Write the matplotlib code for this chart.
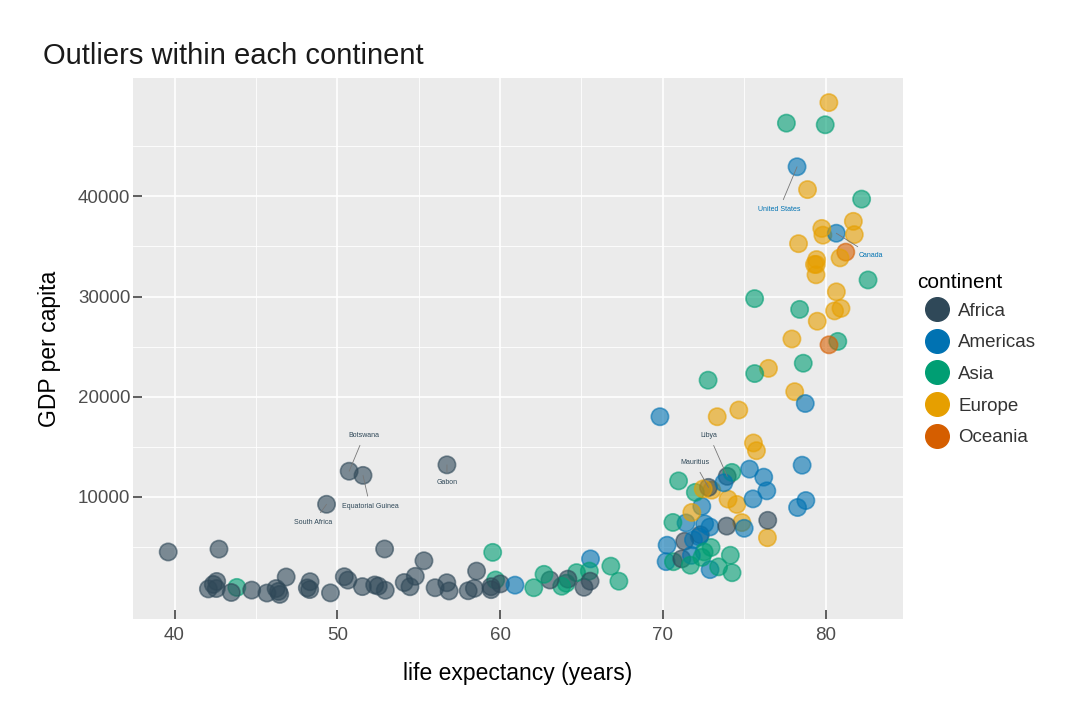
import matplotlib
matplotlib.use('Agg')
import matplotlib.pyplot as plt
from matplotlib.ticker import FixedLocator
from matplotlib.lines import Line2D

plt.rcParams['font.family'] = ['Liberation Sans', 'DejaVu Sans']

# Gapminder, 2007
countries = ['Afghanistan', 'Albania', 'Algeria', 'Angola', 'Argentina', 'Australia', 'Austria',
             'Bahrain', 'Bangladesh', 'Belgium', 'Benin', 'Bolivia', 'Bosnia and Herzegovina',
             'Botswana', 'Brazil', 'Bulgaria', 'Burkina Faso', 'Burundi', 'Cambodia', 'Cameroon',
             'Canada', 'Central African Republic', 'Chad', 'Chile', 'China', 'Colombia', 'Comoros',
             'Congo, Dem. Rep.', 'Congo, Rep.', 'Costa Rica', "Cote d'Ivoire", 'Croatia', 'Cuba',
             'Czech Republic', 'Denmark', 'Djibouti', 'Dominican Republic', 'Ecuador', 'Egypt',
             'El Salvador', 'Equatorial Guinea', 'Eritrea', 'Ethiopia', 'Finland', 'France', 'Gabon',
             'Gambia', 'Germany', 'Ghana', 'Greece', 'Guatemala', 'Guinea', 'Guinea-Bissau', 'Haiti',
             'Honduras', 'Hong Kong, China', 'Hungary', 'Iceland', 'India', 'Indonesia', 'Iran',
             'Iraq', 'Ireland', 'Israel', 'Italy', 'Jamaica', 'Japan', 'Jordan', 'Kenya',
             'Korea, Dem. Rep.', 'Korea, Rep.', 'Kuwait', 'Lebanon', 'Lesotho', 'Liberia', 'Libya',
             'Madagascar', 'Malawi', 'Malaysia', 'Mali', 'Mauritania', 'Mauritius', 'Mexico',
             'Mongolia', 'Montenegro', 'Morocco', 'Mozambique', 'Myanmar', 'Namibia', 'Nepal',
             'Netherlands', 'New Zealand', 'Nicaragua', 'Niger', 'Nigeria', 'Norway', 'Oman',
             'Pakistan', 'Panama', 'Paraguay', 'Peru', 'Philippines', 'Poland', 'Portugal',
             'Puerto Rico', 'Reunion', 'Romania', 'Rwanda', 'Sao Tome and Principe', 'Saudi Arabia',
             'Senegal', 'Serbia', 'Sierra Leone', 'Singapore', 'Slovak Republic', 'Slovenia',
             'Somalia', 'South Africa', 'Spain', 'Sri Lanka', 'Sudan', 'Swaziland', 'Sweden',
             'Switzerland', 'Syria', 'Taiwan', 'Tanzania', 'Thailand', 'Togo', 'Trinidad and Tobago',
             'Tunisia', 'Turkey', 'Uganda', 'United Kingdom', 'United States', 'Uruguay', 'Venezuela',
             'Vietnam', 'West Bank and Gaza', 'Yemen, Rep.', 'Zambia', 'Zimbabwe']

continents = ['Asia', 'Europe', 'Africa', 'Africa', 'Americas', 'Oceania', 'Europe',
              'Asia', 'Asia', 'Europe', 'Africa', 'Americas', 'Europe',
              'Africa', 'Americas', 'Europe', 'Africa', 'Africa', 'Asia', 'Africa',
              'Americas', 'Africa', 'Africa', 'Americas', 'Asia', 'Americas', 'Africa',
              'Africa', 'Africa', 'Americas', 'Africa', 'Europe', 'Americas',
              'Europe', 'Europe', 'Africa', 'Americas', 'Americas', 'Africa',
              'Americas', 'Africa', 'Africa', 'Africa', 'Europe', 'Europe', 'Africa',
              'Africa', 'Europe', 'Africa', 'Europe', 'Americas', 'Africa', 'Africa', 'Americas',
              'Americas', 'Asia', 'Europe', 'Europe', 'Asia', 'Asia', 'Asia',
              'Asia', 'Europe', 'Asia', 'Europe', 'Americas', 'Asia', 'Asia', 'Africa',
              'Asia', 'Asia', 'Asia', 'Asia', 'Africa', 'Africa', 'Africa',
              'Africa', 'Africa', 'Asia', 'Africa', 'Africa', 'Africa', 'Americas',
              'Asia', 'Europe', 'Africa', 'Africa', 'Asia', 'Africa', 'Asia',
              'Europe', 'Oceania', 'Americas', 'Africa', 'Africa', 'Europe', 'Asia',
              'Asia', 'Americas', 'Americas', 'Americas', 'Asia', 'Europe', 'Europe',
              'Americas', 'Africa', 'Europe', 'Africa', 'Africa', 'Asia',
              'Africa', 'Europe', 'Africa', 'Asia', 'Europe', 'Europe',
              'Africa', 'Africa', 'Europe', 'Asia', 'Africa', 'Africa', 'Europe',
              'Europe', 'Asia', 'Asia', 'Africa', 'Asia', 'Africa', 'Americas',
              'Africa', 'Europe', 'Africa', 'Europe', 'Americas', 'Americas', 'Americas',
              'Asia', 'Asia', 'Asia', 'Africa', 'Africa']

life_exp = [43.828, 76.423, 72.301, 42.731, 75.320, 81.235, 79.829,
            75.635, 64.062, 79.441, 56.728, 65.554, 74.852,
            50.728, 72.390, 73.005, 52.295, 49.580, 59.723, 50.430,
            80.653, 44.741, 50.651, 78.553, 72.961, 72.889, 65.152,
            46.462, 55.322, 78.782, 48.328, 75.748, 78.273,
            76.486, 78.332, 54.791, 72.235, 74.994, 71.338,
            71.878, 51.579, 58.040, 52.947, 79.313, 80.657, 56.735,
            59.448, 79.406, 60.022, 79.483, 70.259, 56.007, 46.388, 60.916,
            70.198, 82.208, 73.338, 81.757, 64.698, 70.650, 70.964,
            59.545, 78.885, 80.745, 80.546, 72.567, 82.603, 72.535, 54.110,
            67.297, 78.623, 77.588, 71.993, 42.592, 45.678, 73.952,
            59.443, 48.303, 74.241, 54.467, 64.164, 72.801, 76.195,
            66.803, 74.543, 71.164, 42.082, 62.069, 52.906, 63.785,
            79.762, 80.204, 72.899, 56.867, 46.859, 80.196, 75.640,
            65.483, 75.537, 71.752, 71.421, 71.688, 75.563, 78.098,
            78.746, 76.442, 72.476, 46.242, 65.528, 72.777,
            63.062, 74.002, 42.568, 79.972, 74.663, 77.926,
            48.159, 49.339, 80.941, 72.396, 58.556, 39.613, 80.884,
            81.701, 74.143, 78.400, 52.517, 70.616, 58.420, 69.819,
            73.923, 71.777, 51.542, 79.425, 78.242, 76.384, 73.747,
            74.249, 73.422, 62.698, 42.384, 43.487]

gdp_per_cap = [974.6, 5937.0, 6223.4, 4797.2, 12779.4, 34435.4, 36126.5,
               29796.0, 1391.3, 33692.6, 1441.3, 3822.1, 7446.3,
               12569.9, 9065.8, 10680.8, 1217.0, 430.1, 1713.8, 2042.1,
               36319.2, 706.0, 1704.1, 13171.6, 4959.1, 7006.6, 986.1,
               277.6, 3632.6, 9645.1, 1544.8, 14619.2, 8948.1,
               22833.3, 35278.4, 2082.5, 6025.4, 6873.3, 5581.2,
               5728.4, 12154.1, 641.4, 690.8, 33207.1, 30470.0, 13206.5,
               752.7, 32170.4, 1327.6, 27538.4, 5186.1, 942.7, 579.2, 1201.6,
               3548.3, 39725.0, 18008.9, 36180.8, 2452.2, 3540.7, 11605.7,
               4471.1, 40676.0, 25523.3, 28569.7, 7320.9, 31656.1, 4519.5, 1463.2,
               1593.1, 23348.1, 47307.0, 10461.1, 1569.3, 414.5, 12057.5,
               1044.8, 759.3, 12451.7, 1042.6, 1803.2, 10957.0, 11977.6,
               3095.8, 9253.9, 3820.2, 823.7, 944.0, 4811.1, 1091.4,
               36797.9, 25185.0, 2749.3, 619.7, 2014.0, 49357.2, 22316.2,
               2605.9, 9809.2, 4172.8, 7408.9, 3190.5, 15389.9, 20509.6,
               19328.7, 7670.1, 10808.5, 863.1, 1598.4, 21654.8,
               1712.5, 9786.5, 862.5, 47143.2, 18678.3, 25768.3,
               926.1, 9269.7, 28821.1, 3970.1, 2602.4, 4513.5, 33859.7,
               37506.4, 4184.5, 28718.3, 1107.5, 7458.4, 883.0, 18008.5,
               7092.9, 8458.3, 1056.4, 33203.3, 42951.7, 10611.5, 11415.8,
               2441.6, 3025.3, 2280.8, 1271.2, 469.7]

continent_names = ['Africa', 'Americas', 'Asia', 'Europe', 'Oceania']
continent_colors = ['#2F4858', '#0072B2', '#009E73', '#E69F00', '#D55E00']

# labelled outliers and offsets of their labels (pixels)
outliers = ['Botswana', 'Equatorial Guinea', 'South Africa', 'Gabon',
            'Libya', 'Mauritius', 'United States', 'Canada']
label_dx = [15, 7, -13, 0, -18, -14, -18, 35]
label_dy = [36, -31, -18, -18, 41, 25, -43, -22]

color_of = dict(zip(continent_names, continent_colors))
point_colors = [color_of[c] for c in continents]

fig = plt.figure(figsize=(10.8, 7.2), dpi=100)
ax = fig.add_axes([133 / 1080, 1 - 619 / 720, 770 / 1080, 541 / 720])
ax.set_facecolor('#EBEBEB')

ax.scatter(life_exp, gdp_per_cap, s=155, c=point_colors, edgecolors=point_colors,
           linewidths=1.2, alpha=0.6, zorder=3)

for name, dx, dy in zip(outliers, label_dx, label_dy):
    i = countries.index(name)
    ax.annotate(name, (life_exp[i], gdp_per_cap[i]), xytext=(dx, dy),
                textcoords='offset pixels', fontsize=5, ha='center', va='center',
                color=point_colors[i], zorder=4,
                arrowprops=dict(arrowstyle='-', color='#777777', lw=0.6,
                                shrinkA=3, shrinkB=0))

ax.set_xlim(37.45, 84.75)
ax.set_ylim(-2177, 51811)
ax.xaxis.set_major_locator(FixedLocator([40, 50, 60, 70, 80]))
ax.xaxis.set_minor_locator(FixedLocator([45, 55, 65, 75]))
ax.yaxis.set_major_locator(FixedLocator([10000, 20000, 30000, 40000]))
ax.yaxis.set_minor_locator(FixedLocator([5000, 15000, 25000, 35000, 45000]))
ax.grid(which='major', color='white', lw=1.2, zorder=0)
ax.grid(which='minor', color='white', lw=0.6, zorder=0)
ax.set_axisbelow(True)
for sp in ax.spines.values():
    sp.set_visible(False)
ax.tick_params(which='major', direction='in', length=6.5, width=1.1, color='#333333',
               labelsize=13.5, labelcolor='#4D4D4D')
ax.tick_params(axis='x', which='major', pad=6)
ax.tick_params(axis='y', which='major', pad=2)
ax.tick_params(which='minor', length=0)

ax.set_xlabel('life expectancy (years)', fontsize=16.5, labelpad=13)
ax.set_ylabel('GDP per capita', fontsize=16.5, labelpad=12)
fig.text(43 / 1080, 1 - 64 / 720, 'Outliers within each continent', fontsize=21,
         va='baseline', ha='left', color='#1A1A1A')

fig.text(917 / 1080, 1 - 283 / 720, 'continent', fontsize=15, va='center', ha='left')
handles = [Line2D([], [], marker='o', ls='none', markersize=17, color=col)
           for col in continent_colors]
leg = fig.legend(handles, continent_names, loc='upper left',
                 bbox_to_anchor=(914 / 1080, 1 - 293 / 720), frameon=False,
                 fontsize=13.5, handletextpad=0.35, labelspacing=0.78,
                 borderpad=0, handlelength=1.5)
for t in leg.get_texts():
    t.set_color('#333333')

fig.savefig('out.png', dpi=100)
